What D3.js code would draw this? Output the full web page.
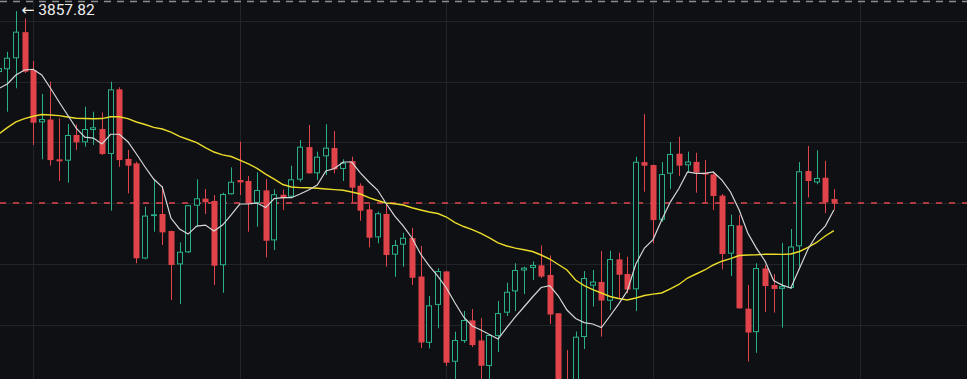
<!DOCTYPE html>
<html>
<head>
<meta charset="utf-8">
<script src="https://cdn.jsdelivr.net/npm/d3@7"></script>
<style>
  html, body { margin: 0; padding: 0; background: #0f1013; overflow: hidden; }
  svg { display: block; }
</style>
</head>
<body>
<div id="chart"></div>
<script>
// candle data (oldest first)
const opens = [3807.8,3810.1,3819.1,3840.6,3809.5,3766.5,3768.8,3736.1,3735.0,3756.1,
  3750.1,3760.2,3761.0,3740.5,3793.6,3736.4,3732.8,3654.6,3689.5,3691.2,
  3677.2,3649.8,3659.7,3698.0,3703.8,3701.9,3649.1,3707.4,3719.1,3718.3,
  3700.3,3710.6,3669.5,3707.0,3705.4,3719.4,3746.2,3724.6,3738.6,3745.4,
  3728.2,3734.7,3714.4,3695.0,3672.0,3691.2,3657.8,3666.0,3671.4,3639.8,
  3585.4,3616.5,3644.0,3569.8,3586.8,3603.8,3587.3,3566.3,3590.9,3610.1,
  3627.6,3644.8,3646.8,3649.0,3641.1,3609.6,3550.7,3544.9,3590.1,3632.3,
  3635.4,3619.9,3653.9,3641.9,3629.3,3733.8,3731.4,3686.5,3724.3,3740.7,
  3731.2,3734.0,3725.0,3723.7,3706.3,3658.6,3681.8,3613.4,3594.1,3646.5,
  3632.8,3629.7,3630.4,3664.6,3726.5,3717.1,3721.0,3703.5];
const highs = [3816.1,3824.5,3857.82,3852.0,3816.9,3789.8,3799.9,3769.8,3765.1,3764.6,
  3779.3,3775.2,3774.6,3799.9,3795.3,3743.8,3734.1,3697.2,3719.1,3714.2,
  3677.5,3667.9,3698.6,3719.7,3711.7,3706.8,3708.7,3729.5,3750.6,3722.4,
  3725.4,3719.9,3711.5,3711.2,3730.9,3752.0,3764.3,3742.4,3764.9,3759.4,
  3736.1,3738.3,3716.4,3699.1,3693.1,3699.1,3669.8,3675.8,3679.9,3664.9,
  3623.8,3646.6,3644.5,3594.5,3611.5,3613.1,3605.7,3592.6,3619.7,3634.7,
  3650.7,3647.9,3652.2,3665.3,3657.1,3609.8,3579.4,3594.6,3644.3,3645.2,
  3660.8,3661.0,3659.4,3656.1,3738.3,3773.3,3731.7,3733.9,3750.3,3754.7,
  3742.4,3741.5,3735.5,3725.9,3707.6,3690.6,3690.4,3632.8,3650.7,3649.3,
  3641.9,3667.4,3678.9,3733.9,3747.0,3743.5,3734.9,3711.6];
const lows = [3801.3,3775.2,3794.5,3807.0,3747.9,3736.1,3730.9,3718.3,3716.9,3743.8,
  3746.5,3747.9,3739.7,3693.9,3730.0,3708.2,3650.7,3654.0,3676.6,3665.7,
  3620.5,3617.2,3659.1,3680.7,3691.2,3632.8,3626.5,3707.2,3706.8,3676.6,
  3680.7,3655.6,3661.6,3694.5,3705.2,3717.7,3724.4,3719.1,3723.2,3724.6,
  3718.3,3700.5,3685.7,3663.8,3667.1,3647.9,3639.7,3647.9,3632.8,3581.1,
  3580.8,3597.3,3566.3,3550.7,3585.2,3581.9,3546.6,3550.7,3577.8,3607.4,
  3611.5,3625.4,3637.0,3638.6,3600.8,3542.5,3534.3,3538.4,3580.3,3615.2,
  3590.4,3612.3,3621.9,3626.0,3611.5,3709.5,3667.1,3684.8,3711.7,3722.4,
  3725.7,3708.7,3700.2,3694.5,3645.7,3640.2,3613.5,3570.0,3577.2,3610.7,
  3610.2,3597.8,3629.6,3647.9,3704.7,3715.6,3692.0,3694.5];
const closes = [3811.1,3819.6,3841.0,3808.1,3766.2,3769.2,3735.5,3734.5,3756.1,3750.1,
  3761.0,3762.4,3740.5,3793.6,3735.5,3730.9,3654.8,3689.9,3690.9,3676.1,
  3649.3,3660.2,3698.4,3704.1,3700.8,3648.7,3707.6,3717.7,3717.2,3700.0,
  3710.9,3669.2,3707.4,3704.1,3719.7,3746.5,3724.6,3738.3,3745.7,3727.9,
  3733.3,3712.8,3693.9,3671.7,3691.8,3657.5,3665.7,3671.7,3638.8,3585.6,
  3616.2,3644.3,3569.0,3587.7,3604.1,3583.5,3566.5,3591.8,3609.8,3627.3,
  3645.2,3647.1,3649.3,3639.8,3608.6,3548.2,3538.4,3590.4,3638.6,3635.7,
  3620.1,3654.2,3641.3,3629.1,3734.1,3730.9,3686.2,3724.0,3740.5,3730.9,
  3734.3,3725.3,3723.6,3706.0,3658.3,3682.1,3613.7,3593.8,3646.8,3632.0,
  3629.6,3631.9,3664.5,3726.3,3718.3,3720.8,3700.7,3700.5];

// the two moving averages as drawn (fast = white, slow = yellow)
const maFast = [3794.3,3798.0,3805.4,3809.5,3810.1,3805.4,3794.7,3783.4,3772.5,3761.8,
  3754.4,3753.6,3748.7,3756.7,3756.7,3750.6,3740.5,3729.8,3719.9,3713.4,
  3687.9,3678.9,3674.7,3681.3,3682.1,3677.2,3682.1,3690.4,3699.4,3699.4,
  3700.2,3696.5,3703.9,3704.6,3704.6,3707.6,3710.9,3715.0,3726.5,3728.6,
  3733.9,3733.9,3724.9,3717.5,3710.9,3699.8,3689.5,3681.3,3671.5,3658.3,
  3648.5,3640.2,3630.4,3618.1,3606.6,3599.2,3595.9,3592.2,3588.5,3597.9,
  3606.6,3614.8,3623.0,3630.8,3632.3,3623.8,3612.3,3605.3,3602.0,3600.8,
  3597.9,3607.4,3617.2,3627.9,3650.1,3663.2,3670.2,3686.2,3701.0,3712.1,
  3725.7,3724.5,3724.5,3725.7,3719.1,3709.3,3694.5,3675.6,3663.2,3652.6,
  3636.5,3632.8,3630.4,3646.4,3662.4,3673.9,3681.3,3694.5];
const maSlow = [3756.9,3762.2,3766.8,3769.6,3771.5,3772.9,3772.5,3772.0,3770.9,3769.9,
  3769.6,3769.4,3769.6,3771.1,3771.1,3769.6,3766.8,3764.7,3762.4,3761.0,
  3758.5,3754.9,3752.4,3749.8,3745.8,3742.1,3739.8,3738.4,3735.5,3732.3,
  3728.7,3724.0,3719.9,3715.4,3713.4,3712.9,3712.7,3712.3,3711.7,3711.2,
  3710.7,3709.3,3707.6,3704.7,3702.3,3700.2,3699.6,3698.6,3696.3,3694.5,
  3692.8,3691.6,3688.7,3684.2,3680.9,3678.4,3675.2,3671.5,3667.4,3664.9,
  3663.2,3661.8,3660.4,3657.5,3654.2,3649.7,3645.2,3637.0,3632.4,3629.1,
  3626.3,3623.4,3621.8,3620.5,3622.2,3624.2,3625.4,3626.3,3629.6,3633.3,
  3638.6,3641.9,3645.2,3649.3,3652.4,3654.5,3657.1,3657.5,3657.7,3658.1,
  3658.1,3658.0,3658.3,3660.4,3663.7,3667.8,3673.1,3677.6];

const priceGrid = [3600, 3650, 3700, 3750, 3800, 3850];
const timeGrid = [4, 28, 52, 76, 100];   // candle slots with a vertical grid line
const lastPrice = 3700.5;
const peakIndex = 2;
const peakPrice = 3857.82;

const W = 967, H = 379;
const BG = '#0f1013';
const UP = '#2bb08c', DOWN = '#e0434a';

const x = d3.scaleLinear().domain([0, 100]).range([-1.3, 859.7]);
const y = d3.scaleLinear().domain([3600, 3850]).range([325, 20.7]);

const svg = d3.select('#chart').append('svg')
  .attr('width', W).attr('height', H);

svg.append('rect').attr('width', W).attr('height', H).attr('fill', BG);

// grid
const grid = svg.append('g').attr('stroke', '#22242a').attr('stroke-width', 1);
grid.selectAll('line.h').data(priceGrid).enter().append('line')
  .attr('class', 'h')
  .attr('x1', 0).attr('x2', W)
  .attr('y1', d => Math.round(y(d)) + 0.5).attr('y2', d => Math.round(y(d)) + 0.5);
grid.selectAll('line.v').data(timeGrid).enter().append('line')
  .attr('class', 'v')
  .attr('y1', 0).attr('y2', H)
  .attr('x1', d => Math.round(x(d)) + 0.5).attr('x2', d => Math.round(x(d)) + 0.5);

// top dashed line
svg.append('line')
  .attr('x1', 0).attr('x2', W).attr('y1', 1.5).attr('y2', 1.5)
  .attr('stroke', '#8a8c90').attr('stroke-width', 1.5)
  .attr('stroke-dasharray', '7,6');

// last price line
svg.append('line')
  .attr('x1', 0).attr('x2', W)
  .attr('y1', Math.round(y(lastPrice))).attr('y2', Math.round(y(lastPrice)))
  .attr('stroke', '#e0444f').attr('stroke-width', 1.5)
  .attr('stroke-dasharray', '6,7');

// candles
const candles = d3.range(opens.length).map(i => ({
  i, o: opens[i], h: highs[i], l: lows[i], c: closes[i]
}));

const cg = svg.append('g').selectAll('g').data(candles).enter().append('g');

cg.each(function(d) {
  const g = d3.select(this);
  const c = Math.round(x(d.i));
  const up = d.c >= d.o;
  const col = up ? UP : DOWN;
  const top = y(Math.max(d.o, d.c));
  const bot = y(Math.min(d.o, d.c));
  g.append('line')
    .attr('x1', c + 0.5).attr('x2', c + 0.5)
    .attr('y1', y(d.h)).attr('y2', y(d.l))
    .attr('stroke', col).attr('stroke-width', 1);
  if (up) {
    g.append('rect')
      .attr('x', c - 2.5).attr('y', top + 0.5)
      .attr('width', 5).attr('height', Math.max(bot - top - 1, 0.5))
      .attr('fill', BG).attr('stroke', col).attr('stroke-width', 1);
  } else {
    g.append('rect')
      .attr('x', c - 2.5).attr('y', top)
      .attr('width', 6).attr('height', Math.max(bot - top, 1))
      .attr('fill', col);
  }
});

// moving averages
const line = d3.line().x((d, i) => x(i)).y(d => y(d));
svg.append('path').datum(maSlow)
  .attr('d', line).attr('fill', 'none')
  .attr('stroke', '#ebdb2a').attr('stroke-width', 1.4);
svg.append('path').datum(maFast)
  .attr('d', line).attr('fill', 'none')
  .attr('stroke', '#d6d6d8').attr('stroke-width', 1.2);

// high marker
svg.append('text')
  .attr('x', x(peakIndex) + 5.5).attr('y', 14.5)
  .attr('fill', '#f0f0f0')
  .attr('font-family', 'Roboto, "DejaVu Sans", sans-serif')
  .attr('font-size', 15.5)
  .text('\u2190 ' + peakPrice.toFixed(2));
</script>
</body>
</html>
